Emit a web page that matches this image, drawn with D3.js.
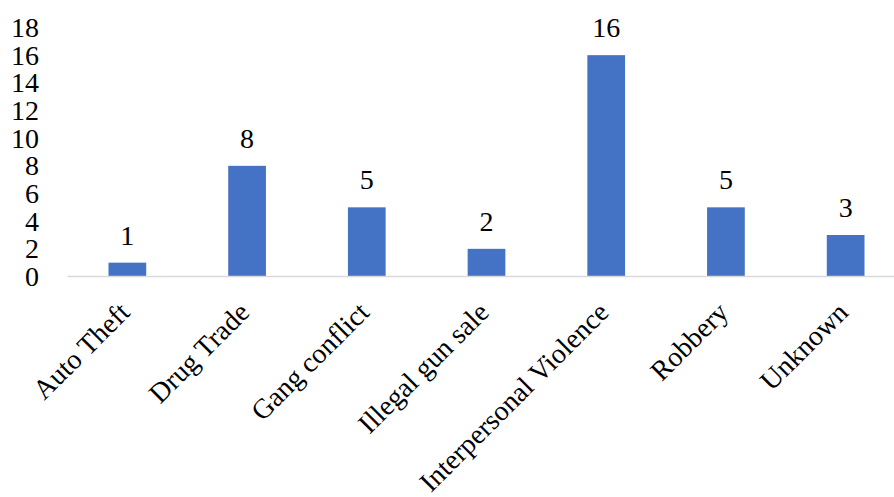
<!DOCTYPE html>
<html>
<head>
<meta charset="utf-8">
<script src="https://cdn.jsdelivr.net/npm/d3@7"></script>
<style>
  body { margin: 0; background: #fff; }
  text { font-family: "Liberation Serif", "Times New Roman", serif; fill: #000; }
</style>
</head>
<body>
<div id="chart"></div>
<script>
const categories = ["Auto Theft", "Drug Trade", "Gang conflict", "Illegal gun sale",
  "Interpersonal Violence", "Robbery", "Unknown"];
const counts = [1, 8, 5, 2, 16, 5, 3];
const yTicks = [0, 2, 4, 6, 8, 10, 12, 14, 16, 18];

const fullWidth = 894, fullHeight = 497;
const plot = { left: 67.5, right: 905.5, top: 27.5, bottom: 276.5 };

const svg = d3.select("#chart")
  .append("svg")
  .attr("width", fullWidth)
  .attr("height", fullHeight);

// scales
const x = d3.scaleBand()
  .domain(categories)
  .range([plot.left, plot.right])
  .paddingInner(0.685)
  .paddingOuter(0.3425);

const y = d3.scaleLinear().domain([0, 18]).range([plot.bottom, plot.top]);

// y tick labels (no axis line in the reference)
svg.append("g")
  .selectAll("text")
  .data(yTicks)
  .enter()
  .append("text")
  .attr("x", 39)
  .attr("y", (d) => y(d))
  .attr("dy", "0.34em")
  .attr("text-anchor", "end")
  .style("font-size", "28px")
  .text((d) => d);

// bars
svg.append("g")
  .selectAll("rect")
  .data(counts)
  .enter()
  .append("rect")
  .attr("x", (d, i) => x(categories[i]))
  .attr("y", (d) => y(d))
  .attr("width", x.bandwidth())
  .attr("height", (d) => y(0) - y(d))
  .style("fill", "#4472C4");

// baseline
svg.append("line")
  .attr("x1", plot.left)
  .attr("x2", plot.right)
  .attr("y1", y(0))
  .attr("y2", y(0))
  .style("stroke", "#d9d9d9")
  .style("stroke-width", 1.5);

// value labels
svg.append("g")
  .selectAll("text")
  .data(counts)
  .enter()
  .append("text")
  .attr("x", (d, i) => x(categories[i]) + x.bandwidth() / 2)
  .attr("y", (d) => y(d) - 18)
  .attr("text-anchor", "middle")
  .style("font-size", "28px")
  .text((d) => d);

// category labels, rotated -45
svg.append("g")
  .selectAll("text")
  .data(categories)
  .enter()
  .append("text")
  .attr("transform", (d) => {
    const cx = x(d) + x.bandwidth() / 2 + 4;
    return `translate(${cx},314) rotate(-45)`;
  })
  .attr("text-anchor", "end")
  .style("font-size", "28px")
  .text((d) => d);
</script>
</body>
</html>
